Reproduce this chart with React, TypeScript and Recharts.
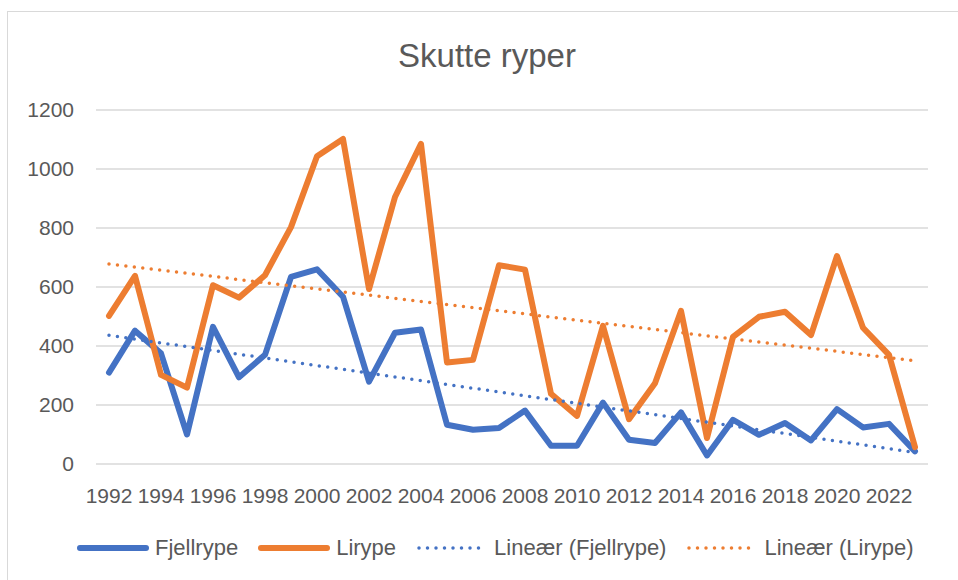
import React from 'react';
import { LineChart, Line, XAxis, YAxis, CartesianGrid, Legend } from 'recharts';

const years = [1992, 1993, 1994, 1995, 1996, 1997, 1998, 1999, 2000, 2001, 2002, 2003, 2004, 2005, 2006, 2007, 2008, 2009, 2010, 2011, 2012, 2013, 2014, 2015, 2016, 2017, 2018, 2019, 2020, 2021, 2022, 2023];
const fjellrype = [310, 452, 375, 100, 465, 294, 370, 634, 660, 567, 279, 445, 456, 133, 116, 122, 181, 62, 62, 208, 82, 71, 175, 29, 150, 99, 139, 80, 186, 124, 136, 43];
const lirype = [502, 638, 302, 259, 606, 564, 640, 803, 1043, 1102, 593, 905, 1085, 344, 353, 674, 659, 238, 163, 468, 152, 274, 519, 88, 431, 499, 516, 437, 705, 462, 370, 57];
const xTicks = [1992, 1994, 1996, 1998, 2000, 2002, 2004, 2006, 2008, 2010, 2012, 2014, 2016, 2018, 2020, 2022];
const yTicks = [0, 200, 400, 600, 800, 1000, 1200];

const BLUE = '#4472C4';
const ORANGE = '#ED7D31';
const TEXT = '#595959';
const GRID = '#d9d9d9';
const FONT = '"Liberation Sans", Arial, sans-serif';

// Excel-style linear trendline (least squares over the category index)
function linearFit(ys: number[]): number[] {
  const n = ys.length;
  let sx = 0, sy = 0, sxx = 0, sxy = 0;
  ys.forEach((y, i) => { sx += i; sy += y; sxx += i * i; sxy += i * y; });
  const b = (n * sxy - sx * sy) / (n * sxx - sx * sx);
  const a = (sy - b * sx) / n;
  return ys.map((_, i) => a + b * i);
}

const fjellTrend = linearFit(fjellrype);
const liryTrend = linearFit(lirype);

const data = years.map((year, i) => ({
  year,
  fjell: fjellrype[i],
  liry: lirype[i],
  fjellTrend: fjellTrend[i],
  liryTrend: liryTrend[i],
}));

const legendItems = [
  { label: 'Fjellrype', color: BLUE, dotted: false },
  { label: 'Lirype', color: ORANGE, dotted: false },
  { label: 'Lineær (Fjellrype)', color: BLUE, dotted: true },
  { label: 'Lineær (Lirype)', color: ORANGE, dotted: true },
];

function LegendContent() {
  return (
    <div style={{ height: 36, display: 'flex', alignItems: 'center', paddingLeft: 77, fontFamily: FONT, fontSize: 22, color: TEXT, whiteSpace: 'nowrap' }}>
      {legendItems.map((it, i) => (
        <div key={i} style={{ display: 'flex', alignItems: 'center', marginRight: 20 }}>
          {it.dotted ? (
            <svg width={66} height={10}>
              <line x1={3} y1={5} x2={64} y2={5} stroke={it.color} strokeWidth={3.5} strokeDasharray="0 8.5" strokeLinecap="round" />
            </svg>
          ) : (
            <svg width={72} height={10}>
              <line x1={3} y1={5} x2={69} y2={5} stroke={it.color} strokeWidth={6} strokeLinecap="round" />
            </svg>
          )}
          <span style={{ marginLeft: it.dotted ? 12 : 6 }}>{it.label}</span>
        </div>
      ))}
    </div>
  );
}

export default function App() {
  return (
    <div style={{ position: 'absolute', left: 0, top: 0, width: 958, height: 580, overflow: 'hidden', background: '#fff' }}>
      <div style={{ position: 'absolute', left: 7, top: 11, width: 980, height: 620, border: `1.5px solid ${GRID}`, boxSizing: 'border-box' }} />
      <div style={{ position: 'absolute', left: 0, top: 37, width: 974, textAlign: 'center', fontFamily: FONT, fontSize: 33, color: TEXT, lineHeight: 'normal' }}>
        Skutte ryper
      </div>
      <div style={{ position: 'absolute', left: 0, top: 0 }}>
        <LineChart width={958} height={580} data={data} margin={{ top: 110, right: 30, bottom: 14, left: 0 }}>
          <CartesianGrid vertical={false} stroke={GRID} strokeWidth={1.5} />
          <XAxis
            dataKey="year"
            type="number"
            domain={[1991.5, 2023.5]}
            ticks={xTicks}
            interval={0}
            axisLine={false}
            tickLine={false}
            tickMargin={18}
            height={66}
            tick={{ fontFamily: FONT, fontSize: 21, fill: TEXT }}
          />
          <YAxis
            domain={[0, 1200]}
            ticks={yTicks}
            interval={0}
            axisLine={false}
            tickLine={false}
            width={96}
            tickMargin={16}
            tick={{ fontFamily: FONT, fontSize: 21, fill: TEXT }}
          />
          <Legend verticalAlign="bottom" height={36} content={() => <LegendContent />} />
          <Line dataKey="fjell" name="Fjellrype" stroke={BLUE} strokeWidth={6} dot={false} strokeLinejoin="round" strokeLinecap="round" isAnimationActive={false} />
          <Line dataKey="liry" name="Lirype" stroke={ORANGE} strokeWidth={6} dot={false} strokeLinejoin="round" strokeLinecap="round" isAnimationActive={false} />
          <Line dataKey="fjellTrend" name="Lineær (Fjellrype)" stroke={BLUE} strokeWidth={3.5} strokeDasharray="0 8.5" strokeLinecap="round" dot={false} isAnimationActive={false} />
          <Line dataKey="liryTrend" name="Lineær (Lirype)" stroke={ORANGE} strokeWidth={3.5} strokeDasharray="0 8.5" strokeLinecap="round" dot={false} isAnimationActive={false} />
        </LineChart>
      </div>
    </div>
  );
}
